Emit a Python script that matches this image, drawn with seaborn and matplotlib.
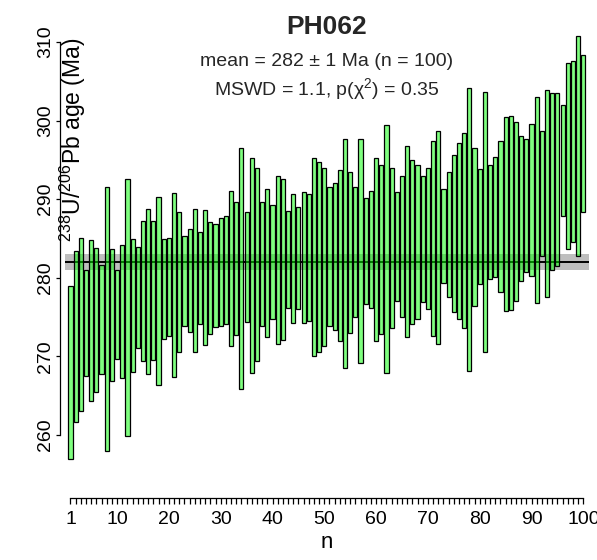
import numpy as np
import pandas as pd
import matplotlib
matplotlib.use("Agg")
import matplotlib.pyplot as plt
import seaborn as sns

# Sample and summary statistics
sample = "PH062"
mean_age = 282.0
mean_err = 1.0
mswd = 1.1
p_chi2 = 0.35

# Lower / upper limits of each aliquot's age interval (Ma), ranked by age
age_lo = [
    256.9, 261.7, 263.0, 267.5, 264.3, 265.4, 267.8, 257.9, 266.9, 269.7,
    267.3, 259.9, 268.0, 271.0, 269.4, 267.8, 269.5, 266.3, 272.2, 272.6,
    267.4, 270.5, 273.8, 273.1, 270.6, 274.1, 271.4, 272.9, 273.7, 273.9,
    274.1, 271.3, 272.7, 265.9, 274.4, 267.9, 269.4, 273.9, 272.5, 274.7,
    271.6, 272.1, 276.1, 274.2, 276.0, 274.3, 274.5, 270.0, 270.5, 271.3,
    273.8, 273.4, 272.0, 268.5, 273.0, 275.0, 269.1, 276.7, 276.1, 272.0,
    272.9, 267.9, 273.6, 277.0, 275.0, 272.4, 274.1, 274.8, 276.9, 276.0,
    272.6, 271.6, 279.3, 277.5, 275.6, 274.7, 273.6, 268.1, 276.4, 279.2,
    270.6, 279.9, 280.1, 278.2, 275.8, 275.9, 277.0, 279.6, 280.7, 280.2,
    276.8, 282.7, 277.5, 281.0, 281.5, 287.8, 283.7, 284.5, 282.7, 288.3,
]
age_hi = [
    279.0, 283.4, 285.1, 281.0, 284.8, 283.8, 281.6, 291.6, 283.6, 281.0,
    284.1, 292.5, 284.9, 283.9, 287.2, 288.7, 287.2, 290.3, 284.9, 285.1,
    290.8, 288.3, 285.3, 286.2, 288.7, 285.8, 288.6, 287.1, 286.8, 287.6,
    287.8, 291.0, 289.6, 296.5, 288.4, 295.2, 294.0, 289.6, 291.3, 289.2,
    293.0, 292.6, 288.5, 290.6, 289.0, 290.9, 290.7, 295.2, 294.7, 294.0,
    291.6, 292.1, 293.7, 297.7, 293.5, 291.5, 297.6, 290.2, 291.0, 295.2,
    294.4, 299.4, 294.0, 290.9, 293.0, 296.7, 295.0, 294.3, 292.9, 294.0,
    297.4, 298.7, 291.3, 293.5, 295.6, 297.1, 298.4, 304.1, 296.5, 293.8,
    303.6, 294.4, 295.3, 297.4, 300.5, 300.6, 299.8, 298.0, 297.7, 299.5,
    303.0, 298.7, 303.9, 303.5, 303.5, 302.0, 307.3, 307.6, 310.8, 308.3,
]

y_ticks = [260, 270, 280, 290, 300, 310]
x_ticks = [1, 10, 20, 30, 40, 50, 60, 70, 80, 90, 100]

df = pd.DataFrame({
    "n": np.arange(1, len(age_lo) + 1),
    "lo": age_lo,
    "hi": age_hi,
})
df["height"] = df["hi"] - df["lo"]

sns.set_theme(style="ticks")
plt.rcParams["font.family"] = ["Liberation Sans", "DejaVu Sans"]
plt.rcParams["mathtext.fontset"] = "custom"
plt.rcParams["mathtext.rm"] = "Liberation Sans"
plt.rcParams["mathtext.it"] = "Liberation Sans:italic"
plt.rcParams["mathtext.default"] = "regular"

W, H = 597, 560
fig = plt.figure(figsize=(W / 100, H / 100), dpi=100)
fig.patch.set_facecolor("white")

ax_left, ax_right, ax_top, ax_bottom = 65.3, 588.5, 18.0, 498.0
y_lo = mean_age - (ax_bottom - 262.0) / 7.86
y_hi = mean_age + (262.0 - ax_top) / 7.86
ax = fig.add_axes([ax_left / W, 1 - ax_bottom / H,
                   (ax_right - ax_left) / W, (ax_bottom - ax_top) / H])
ax.set_facecolor("none")

# weighted mean and its uncertainty band
ax.axhspan(mean_age - mean_err, mean_age + mean_err,
           facecolor="#bebebe", edgecolor="none", zorder=1)
ax.axhline(mean_age, color="black", lw=1.4, zorder=2)

# individual age intervals
ax.bar(df["n"], df["height"], bottom=df["lo"], width=0.8,
       color=(0.0, 1.0, 0.0, 0.5), edgecolor="black", linewidth=0.9, zorder=3)

ax.set_xlim(0, 101)
ax.set_ylim(y_lo, y_hi)

for s in ["top", "right"]:
    ax.spines[s].set_visible(False)
ax.spines["left"].set_position(("outward", 4))
ax.spines["left"].set_bounds(y_ticks[0], y_ticks[-1])
ax.spines["bottom"].set_bounds(1, 100)
for s in ["left", "bottom"]:
    ax.spines[s].set_color("black")
    ax.spines[s].set_linewidth(0.9)

ax.set_yticks(y_ticks)
ax.set_yticklabels([str(t) for t in y_ticks])
ax.set_xticks(x_ticks)
ax.set_xticklabels([str(t) for t in x_ticks])
ax.set_xticks([i for i in range(1, 101) if i not in x_ticks], minor=True)
ax.tick_params(axis="both", which="both", direction="out", length=4,
               width=0.9, color="black", labelsize=14, labelcolor="black")
ax.tick_params(axis="x", pad=5)
ax.tick_params(axis="y", length=3, pad=1, labelrotation=90)
for lab in ax.get_yticklabels():
    lab.set_va("center")

ax.set_xlabel("n", fontsize=16, color="black", labelpad=3)
ax.grid(False)

# vertical axis title, set just inside the plotting area
fig.text(73 / W, 1 - 140 / H, r"$^{238}$U/$^{206}$Pb age (Ma)",
         rotation=90, ha="center", va="center", fontsize=16.5, color="black")

cx = (ax_left + ax_right) / 2 / W
fig.text(cx, 1 - 27 / H, sample, ha="center", va="center",
         fontsize=19, fontweight="bold")
fig.text(cx, 1 - 62 / H, f"mean = {mean_age:.0f} \u00b1 {mean_err:.0f} Ma (n = {len(df)})",
         ha="center", va="center", fontsize=14)
fig.text(cx, 1 - 89 / H, rf"MSWD = {mswd}, p($\chi^2$) = {p_chi2}",
         ha="center", va="center", fontsize=14)

fig.savefig("out.png", dpi=100, facecolor="white")
